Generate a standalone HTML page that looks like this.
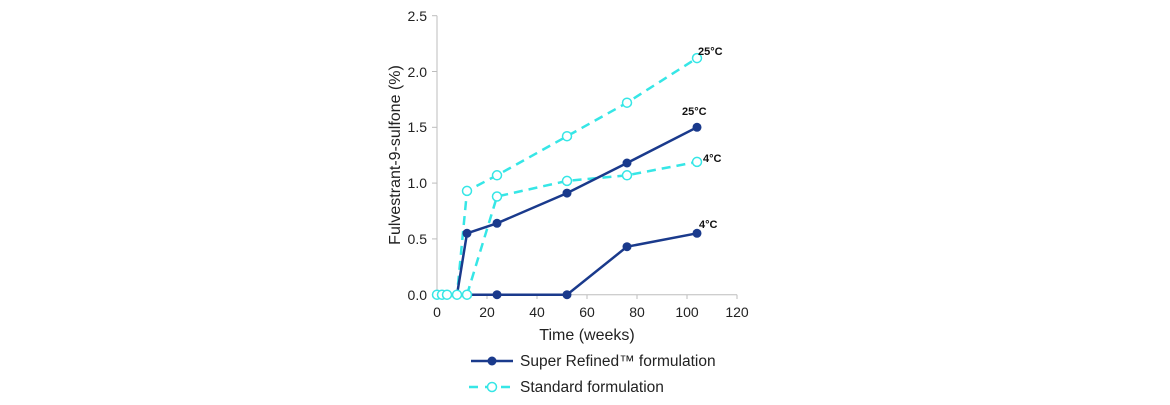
<!DOCTYPE html>
<html><head><meta charset="utf-8"><style>body{margin:0;background:#fff}</style></head><body>
<svg width="1170" height="400" xmlns="http://www.w3.org/2000/svg" font-family="Liberation Sans, Arial, sans-serif">
<g stroke="#bdbdbd" stroke-width="1" fill="none">
<line x1="437" y1="15.7" x2="437" y2="294.7"/><line x1="437" y1="294.7" x2="737" y2="294.7"/>
<line x1="432" y1="15.7" x2="437" y2="15.7"/><line x1="432" y1="71.5" x2="437" y2="71.5"/><line x1="432" y1="127.3" x2="437" y2="127.3"/><line x1="432" y1="183.1" x2="437" y2="183.1"/><line x1="432" y1="238.9" x2="437" y2="238.9"/><line x1="432" y1="294.7" x2="437" y2="294.7"/>
<line x1="487" y1="294.7" x2="487" y2="299"/><line x1="537" y1="294.7" x2="537" y2="299"/><line x1="587" y1="294.7" x2="587" y2="299"/><line x1="637" y1="294.7" x2="637" y2="299"/><line x1="687" y1="294.7" x2="687" y2="299"/><line x1="737" y1="294.7" x2="737" y2="299"/>
</g>
<g font-size="14" fill="#222" text-anchor="end">
<text x="427" y="21">2.5</text><text x="427" y="77">2.0</text><text x="427" y="132">1.5</text><text x="427" y="188">1.0</text><text x="427" y="244">0.5</text><text x="427" y="300">0.0</text>
</g>
<g font-size="14" fill="#222" text-anchor="middle">
<text x="437" y="317">0</text><text x="487" y="317">20</text><text x="537" y="317">40</text><text x="587" y="317">60</text><text x="637" y="317">80</text><text x="687" y="317">100</text><text x="737" y="317">120</text>
<text x="587" y="340" font-size="16">Time (weeks)</text>
<text transform="translate(400,155) rotate(-90)" font-size="16">Fulvestrant-9-sulfone (%)</text>
</g>
<g fill="none" stroke="#36e6e6" stroke-width="2.5" stroke-dasharray="9,6">
<polyline points="437,294.7 442,294.7 447,294.7 457,294.7 467,190.9 497,175.3 567,136.2 627,102.7 697,58.1"/>
<polyline points="467,294.7 497,196.5 567,180.9 627,175.3 697,161.9"/>
</g>
<g fill="none" stroke="#1a3a8c" stroke-width="2.5">
<polyline points="457,294.7 467,233.3 497,223.3 567,193.1 627,163.0 697,127.3"/>
<polyline points="467,294.7 497,294.7 567,294.7 627,246.7 697,233.3"/>
</g>
<g fill="#fff" stroke="#36e6e6" stroke-width="1.5">
<circle cx="437" cy="294.7" r="4.5"/><circle cx="442" cy="294.7" r="4.5"/><circle cx="447" cy="294.7" r="4.5"/><circle cx="457" cy="294.7" r="4.5"/><circle cx="467" cy="190.9" r="4.5"/><circle cx="497" cy="175.3" r="4.5"/><circle cx="567" cy="136.2" r="4.5"/><circle cx="627" cy="102.7" r="4.5"/><circle cx="697" cy="58.1" r="4.5"/>
<circle cx="467" cy="294.7" r="4.5"/><circle cx="497" cy="196.5" r="4.5"/><circle cx="567" cy="180.9" r="4.5"/><circle cx="627" cy="175.3" r="4.5"/><circle cx="697" cy="161.9" r="4.5"/>
</g>
<g fill="#1a3a8c">
<circle cx="467" cy="233.3" r="4.5"/><circle cx="497" cy="223.3" r="4.5"/><circle cx="567" cy="193.1" r="4.5"/><circle cx="627" cy="163.0" r="4.5"/><circle cx="697" cy="127.3" r="4.5"/>
<circle cx="497" cy="294.7" r="4.5"/><circle cx="567" cy="294.7" r="4.5"/><circle cx="627" cy="246.7" r="4.5"/><circle cx="697" cy="233.3" r="4.5"/>
</g>
<g font-size="11" font-weight="bold" fill="#111">
<text x="698" y="55">25°C</text><text x="682" y="115">25°C</text><text x="703" y="162">4°C</text><text x="699" y="228">4°C</text>
</g>
<line x1="471" y1="361" x2="513" y2="361" stroke="#1a3a8c" stroke-width="2.5"/><circle cx="492" cy="361" r="4.5" fill="#1a3a8c"/>
<line x1="469" y1="387" x2="515" y2="387" stroke="#36e6e6" stroke-width="2.5" stroke-dasharray="9,7"/><circle cx="492" cy="387" r="4.5" fill="#fff" stroke="#36e6e6" stroke-width="1.5"/>
<g font-size="15.5" fill="#222"><text x="520" y="366">Super Refined™ formulation</text><text x="520" y="392">Standard formulation</text></g>
</svg>
</body></html>
